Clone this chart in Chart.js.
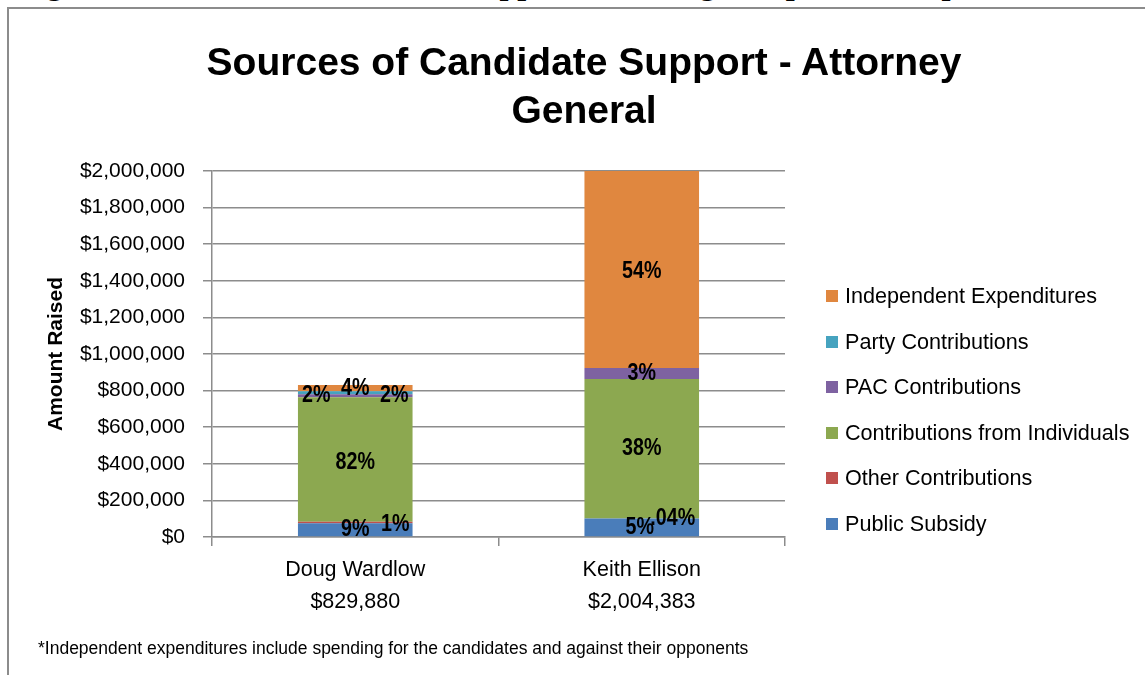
<!DOCTYPE html>
<html>
<head>
<meta charset="utf-8">
<script src="https://cdn.jsdelivr.net/npm/chart.js@4.4.1/dist/chart.umd.min.js"></script>
<style>
  html, body { margin: 0; padding: 0; background: #fff; }
  #page { position: relative; width: 1145px; height: 675px; overflow: hidden;
          font-family: "Liberation Sans", Arial, sans-serif; color: #000; }
  #frame { position: absolute; left: 7px; top: 7px; width: 1170px; height: 720px;
           border: 2px solid #8c8c8c; box-sizing: border-box; }
  #caption { position: absolute; left: 18px; top: -35px; white-space: nowrap;
             font: bold 32px "Liberation Serif", "Times New Roman", serif; }
  #title { position: absolute; left: 0; top: 38px; width: 1168px; text-align: center;
           font-weight: bold; font-size: 39px; line-height: 48px; }
  #legend { position: absolute; left: 826px; top: 0; }
  .item { position: absolute; left: 0; white-space: nowrap; font-size: 21.6px; line-height: 26px; }
  .swatch { position: absolute; left: 0; top: 7px; width: 12px; height: 12px; }
  .item span { position: absolute; left: 19px; top: 0; }
  #note { position: absolute; left: 38px; top: 637px; white-space: nowrap; font-size: 17.5px; line-height: 22px; }
  canvas { position: absolute; left: 0; top: 0; }
</style>
</head>
<body>
<div id="page">
  <div id="frame"></div>
  <div id="caption">Figure 11: Sources of Candidate Support Including Independent Expenditures</div>
  <canvas id="chart" width="1145" height="675"></canvas>
  <div id="title">Sources of Candidate Support - Attorney<br>General</div>
  <div id="legend"></div>
  <div id="note">*Independent expenditures include spending for the candidates and against their opponents</div>
</div>
<script>
// Candidates and the total each raised
const candidates = ['Doug Wardlow', 'Keith Ellison'];
const totalsRaised = [829880, 2004383];

// Amounts by source (dollars), stacked bottom to top
const publicSubsidy = [74700, 100200];
const otherContributions = [8300, 800];
const individualContributions = [680500, 761700];
const pacContributions = [16600, 60100];
const partyContributions = [16600, 0];
const independentExpenditures = [33180, 1081583];

// Share of each candidate's total, as printed on the bars
const publicSubsidyPct = ['9%', '5%'];
const otherContributionsPct = ['1%', '.04%'];
const individualContributionsPct = ['82%', '38%'];
const pacContributionsPct = ['2%', '3%'];
const partyContributionsPct = ['2%', ''];
const independentExpendituresPct = ['4%', '54%'];

// Y axis ticks
const yTicks = [0, 200000, 400000, 600000, 800000, 1000000, 1200000, 1400000, 1600000, 1800000, 2000000];

const money = v => '$' + Number(v).toLocaleString('en-US');

// Nudges for labels on thin segments so they do not sit on top of each other
const labelNudge = {
  'Public Subsidy': [[0, 0], [-2, 0]],
  'Other Contributions': [[40, 2], [31, 0]],
  'Contributions from Individuals': [[0, 3], [0, 0]],
  'PAC Contributions': [[-39, 0], [0, 0]],
  'Party Contributions': [[39, 3], [0, 0]],
  'Independent Expenditures': [[0, 0], [0, 2]]
};

const series = [
  { label: 'Public Subsidy', data: publicSubsidy, pct: publicSubsidyPct, color: '#4A7DBA' },
  { label: 'Other Contributions', data: otherContributions, pct: otherContributionsPct, color: '#C0504D' },
  { label: 'Contributions from Individuals', data: individualContributions, pct: individualContributionsPct, color: '#8CA850' },
  { label: 'PAC Contributions', data: pacContributions, pct: pacContributionsPct, color: '#7E62A1' },
  { label: 'Party Contributions', data: partyContributions, pct: partyContributionsPct, color: '#46A3BF' },
  { label: 'Independent Expenditures', data: independentExpenditures, pct: independentExpendituresPct, color: '#E0873F' }
];

// Percent labels in a condensed bold face (regular bold squeezed horizontally)
const percentLabels = {
  id: 'percentLabels',
  afterDatasetsDraw(chart) {
    const ctx = chart.ctx;
    chart.data.datasets.forEach((ds, di) => {
      const meta = chart.getDatasetMeta(di);
      meta.data.forEach((bar, i) => {
        const text = ds.pctLabels[i];
        if (!text) return;
        const c = bar.getCenterPoint();
        const n = (labelNudge[ds.label] || [])[i] || [0, 0];
        ctx.save();
        ctx.translate(c.x + n[0], c.y + n[1]);
        ctx.scale(0.82, 1);
        ctx.font = 'bold 24px "Liberation Sans", Arial, sans-serif';
        ctx.fillStyle = '#000';
        ctx.textAlign = 'center';
        ctx.textBaseline = 'middle';
        ctx.fillText(text, 0, 0);
        ctx.restore();
      });
    });
  }
};

const gridGrey = '#8c8c8c';

const chart = new Chart(document.getElementById('chart'), {
  type: 'bar',
  data: {
    labels: candidates.map((name, i) => [name, money(totalsRaised[i])]),
    datasets: series.map(s => ({
      label: s.label,
      data: s.data,
      pctLabels: s.pct,
      backgroundColor: s.color,
      borderWidth: 0,
      categoryPercentage: 1.0,
      barPercentage: 0.4,
      clip: 0
    }))
  },
  options: {
    responsive: false,
    devicePixelRatio: 1,
    animation: false,
    layout: { padding: { top: 171, left: 20, right: 360, bottom: 49 } },
    plugins: {
      legend: { display: false },
      title: { display: false },
      tooltip: { enabled: false }
    },
    scales: {
      x: {
        stacked: true,
        grid: { offset: true, drawOnChartArea: false, tickLength: 9, color: gridGrey, lineWidth: 1.5 },
        border: { color: gridGrey, width: 1.5 },
        ticks: {
          color: '#000',
          padding: 8,
          maxRotation: 0,
          font: { family: '"Liberation Sans", Arial, sans-serif', size: 21.5, lineHeight: 1.49 }
        }
      },
      y: {
        stacked: true,
        min: 0,
        max: 2000000,
        afterBuildTicks(scale) { scale.ticks = yTicks.map(v => ({ value: v })); },
        afterFit(scale) { scale.width = 192; },
        grid: { color: gridGrey, lineWidth: 1.5, tickLength: 9 },
        border: { color: gridGrey, width: 1.5 },
        ticks: {
          color: '#000',
          padding: 18,
          font: { family: '"Liberation Sans", Arial, sans-serif', size: 21 },
          callback: v => money(v)
        },
        title: {
          display: true,
          text: 'Amount Raised',
          color: '#000',
          padding: { top: 24, bottom: 0 },
          font: { family: '"Liberation Sans", Arial, sans-serif', size: 21, weight: 'bold' }
        }
      }
    }
  },
  plugins: [percentLabels]
});

// Legend, top entry is the top of the stack
const legend = document.getElementById('legend');
chart.data.datasets.slice().reverse().forEach((ds, i) => {
  const item = document.createElement('div');
  item.className = 'item';
  item.style.top = (296 + 45.6 * i - 13) + 'px';
  const sw = document.createElement('div');
  sw.className = 'swatch';
  sw.style.background = ds.backgroundColor;
  const tx = document.createElement('span');
  tx.textContent = ds.label;
  item.appendChild(sw);
  item.appendChild(tx);
  legend.appendChild(item);
});
</script>
</body>
</html>
